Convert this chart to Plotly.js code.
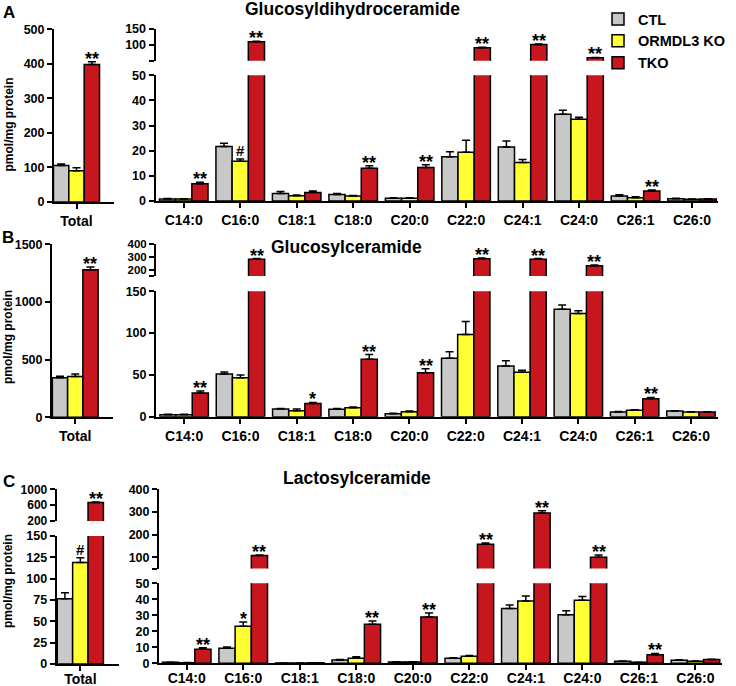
<!DOCTYPE html>
<html><head><meta charset="utf-8">
<script src="https://cdn.plot.ly/plotly-3.0.1.min.js"></script>
<style>html,body{margin:0;padding:0;background:#fff}#chart{width:736px;height:686px}</style>
</head><body><div id="chart"></div><script>
// ---------- DATA ----------
const categories = ['C14:0','C16:0','C18:1','C18:0','C20:0','C22:0','C24:1','C24:0','C26:1','C26:0'];
const totalLabel = ['Total'];
const seriesNames = ['CTL','ORMDL3 KO','TKO'];

// A: Glucosyldihydroceramide
const gdhTotal    = [105, 90, 398];
const gdhTotalErr = [4, 8.7, 7.7];
const gdhTotalSig = ['', '', '**'];
const gdhCTL    = [0.8, 21.7, 3.0, 2.6, 1.1, 17.6, 21.5, 34.5, 2.0, 0.9];
const gdhCTLErr = [0.2, 1.3, 0.8, 0.4, 0.2, 2.0, 2.4, 1.6, 0.5, 0.2];
const gdhKO     = [0.8, 15.8, 2.1, 2.0, 1.1, 19.4, 15.3, 32.5, 1.3, 0.7];
const gdhKOErr  = [0.1, 0.9, 0.3, 0.2, 0.2, 4.8, 1.2, 0.8, 0.4, 0.1];
const gdhTKO    = [6.9, 110, 3.4, 13.0, 13.3, 90.6, 101, 59.4, 4.0, 0.8];
const gdhTKOErr = [0.6, 1.5, 0.6, 1.0, 1.1, 1.5, 1.5, 1.0, 0.4, 0.1];
const gdhKOSig  = ['', '#', '', '', '', '', '', '', '', ''];
const gdhTKOSig = ['**', '**', '', '**', '**', '**', '**', '**', '**', ''];

// B: Glucosylceramide
const gcTotal    = [344, 353, 1280];
const gcTotalErr = [12, 23, 23];
const gcTotalSig = ['', '', '**'];
const gcCTL    = [2.4, 51, 9.2, 8.8, 3.6, 70, 60.5, 128.5, 5.6, 6.8];
const gcCTLErr = [0.4, 2.4, 0.6, 1.0, 0.4, 7.6, 6.4, 5.2, 0.6, 0.4];
const gcKO     = [2.4, 46.6, 7.2, 10.7, 6.0, 98.3, 53.3, 123.4, 7.6, 5.6];
const gcKOErr  = [0.4, 3.2, 2.0, 0.8, 0.8, 15.5, 2.4, 3.2, 0.8, 0.4];
const gcTKO    = [28.3, 285, 15.9, 68.8, 52.5, 289, 285, 235, 21.5, 5.6];
const gcTKOErr = [2.4, 5, 1.2, 5.6, 4.8, 5, 5, 5, 1.6, 0.4];
const gcKOSig  = ['', '', '', '', '', '', '', '', '', ''];
const gcTKOSig = ['**', '**', '*', '**', '**', '**', '**', '**', '**', ''];

// C: Lactosylceramide
const lcTotal    = [76.6, 119, 660];
const lcTotalErr = [7, 5.5, 15];
const lcTotalSig = ['', '#', '**'];
const lcCTL    = [0.6, 9.4, 0.2, 2.1, 0.8, 3.1, 34.2, 30.4, 1.25, 1.9];
const lcCTLErr = [0.1, 0.8, 0.05, 0.3, 0.1, 0.4, 2.3, 2.5, 0.2, 0.3];
const lcKO     = [0.4, 23.1, 0.2, 3.1, 0.8, 4.4, 39, 39.4, 0.6, 1.25];
const lcKOErr  = [0.1, 2.7, 0.05, 1.0, 0.1, 0.4, 3.1, 2.3, 0.1, 0.2];
const lcTKO    = [8.75, 107, 0.3, 24.4, 29, 157.5, 295, 100, 5.4, 2.3];
const lcTKOErr = [1.0, 3, 0.05, 2.0, 2.5, 5, 10, 10, 0.8, 0.3];
const lcKOSig  = ['', '*', '', '', '', '', '', '', '', ''];
const lcTKOSig = ['**', '**', '', '**', '**', '**', '**', '**', '**', ''];

// ---------- STYLE / LAYOUT ----------
const W = 736, H = 686;
const FONT = 'Liberation Sans, Arial, Helvetica, sans-serif';
const seriesColors = ['#c8c8c8', '#ffff33', '#c8161e'];
const BW = 0.86 / 3;
const X = px => px / W;
const Y = py => 1 - py / H;

const traces = [];
const annotations = [];
const layout = {
  width: W, height: H,
  margin: {l: 0, r: 0, t: 0, b: 0},
  paper_bgcolor: '#fff', plot_bgcolor: 'rgba(0,0,0,0)',
  barmode: 'overlay',
  showlegend: true,
  legend: {
    x: X(598), y: Y(3), xanchor: 'left', yanchor: 'top',
    font: {family: FONT, size: 14.5, color: '#000', weight: 'bold'},
    bgcolor: 'rgba(0,0,0,0)', tracegroupgap: 0
  },
  font: {family: FONT, color: '#000'},
  annotations: annotations
};

let xCount = 0, yCount = 0;
const axName = (l, n) => l + (n > 1 ? n : '');
const axKey = (l, n) => l + 'axis' + (n > 1 ? n : '');

function makePlot(cfg) {
  const xn = ++xCount;
  const segIds = cfg.segs.map(() => ++yCount);
  const xs = cfg.labels.map((_, i) => i);
  layout[axKey('x', xn)] = {
    domain: [X(cfg.xPx[0]), X(cfg.xPx[1])], range: cfg.xRange,
    anchor: axName('y', segIds[0]),
    tickmode: 'array', tickvals: xs, ticktext: cfg.labels,
    showline: true, linewidth: 2, linecolor: '#000',
    ticks: 'outside', ticklen: 5, tickwidth: 2, tickcolor: '#000',
    ticklabelstandoff: cfg.labelStandoff || 0,
    tickfont: {family: FONT, size: 14, color: '#000', weight: 'bold'},
    showgrid: false, zeroline: false, fixedrange: true
  };
  cfg.segs.forEach((s, si) => {
    const yn = segIds[si];
    const ax = {
      domain: [Y(s.px[0]), Y(s.px[1])], range: s.range,
      anchor: axName('x', xn),
      showline: true, linewidth: 2, linecolor: '#000',
      ticks: 'outside', ticklen: 5, tickwidth: 2, tickcolor: '#000',
      tickfont: {family: FONT, size: s.fontSize || 12.5, color: '#000', weight: 'bold'},
      showgrid: false, zeroline: false, fixedrange: true
    };
    if (s.tickvals) { ax.tickmode = 'array'; ax.tickvals = s.tickvals; ax.ticktext = s.ticktext; }
    else { ax.tickmode = 'linear'; ax.tick0 = 0; ax.dtick = s.dtick; }
    layout[axKey('y', yn)] = ax;
    cfg.series.forEach((ser, k) => {
      traces.push({
        type: 'bar', x: xs, y: ser.vals,
        xaxis: axName('x', xn), yaxis: axName('y', yn),
        width: BW, offset: -1.5 * BW + k * BW,
        name: seriesNames[k], legendgroup: seriesNames[k],
        showlegend: !!cfg.legend && si === 0,
        marker: {color: seriesColors[k], line: {color: '#000', width: 1.5}},
        error_y: {type: 'data', symmetric: false, array: ser.errs,
                  arrayminus: ser.errs.map(() => 0),
                  color: '#000', thickness: 1.5, width: 4},
        hoverinfo: 'skip', cliponaxis: true
      });
    });
  });
  // significance marks
  cfg.series.forEach((ser, k) => {
    ser.sig.forEach((txt, i) => {
      if (!txt) return;
      const yv = ser.vals[i] + ser.errs[i];
      let si = cfg.segs.findIndex(s => yv >= s.range[0] && yv <= s.range[1]);
      if (si < 0) si = cfg.segs.length - 1;
      const star = txt.indexOf('*') >= 0;
      annotations.push({
        x: i + (k - 1) * BW, y: yv,
        xref: axName('x', xn), yref: axName('y', segIds[si]),
        text: txt, showarrow: false, xanchor: 'center', yanchor: 'bottom',
        yshift: star ? -9 : -2,
        font: {family: FONT, size: star ? 18 : 15, color: '#000', weight: 'bold'}
      });
    });
  });
}

// Panel A
makePlot({
  labels: totalLabel, xPx: [54, 114], xRange: [-0.42, 0.70], legend: true,
  segs: [{px: [201.7, 29.3], range: [0, 500], dtick: 100}],
  series: [0, 1, 2].map(k => ({vals: [gdhTotal[k]], errs: [gdhTotalErr[k]], sig: [gdhTotalSig[k]]}))
});
makePlot({
  labels: categories, xPx: [155.5, 718], xRange: [-0.5, 9.46],
  segs: [
    {px: [201, 75.3], range: [0, 50], dtick: 10},
    {px: [60.7, 29], range: [50, 150], tickvals: [50, 100, 150], ticktext: ['', '100', '150']}
  ],
  series: [
    {vals: gdhCTL, errs: gdhCTLErr, sig: categories.map(() => '')},
    {vals: gdhKO, errs: gdhKOErr, sig: gdhKOSig},
    {vals: gdhTKO, errs: gdhTKOErr, sig: gdhTKOSig}
  ]
});
// Panel B
makePlot({
  labels: totalLabel, xPx: [52, 113], xRange: [-0.437, 0.71],
  segs: [{px: [417.3, 244.3], range: [0, 1500], dtick: 500}],
  series: [0, 1, 2].map(k => ({vals: [gcTotal[k]], errs: [gcTotalErr[k]], sig: [gcTotalSig[k]]}))
});
makePlot({
  labels: categories, xPx: [156, 718], xRange: [-0.5, 9.48],
  segs: [
    {px: [416.7, 291.3], range: [0, 150], dtick: 50},
    {px: [276, 244.3], range: [155, 400], tickvals: [155, 200, 300, 400], ticktext: ['', '200', '300', '400'], fontSize: 11.5}
  ],
  series: [
    {vals: gcCTL, errs: gcCTLErr, sig: categories.map(() => '')},
    {vals: gcKO, errs: gcKOErr, sig: gcKOSig},
    {vals: gcTKO, errs: gcTKOErr, sig: gcTKOSig}
  ]
});
// Panel C
makePlot({
  labels: totalLabel, xPx: [56.7, 119], xRange: [-0.44, 0.72], labelStandoff: -4,
  segs: [
    {px: [664, 536], range: [0, 150], dtick: 25},
    {px: [521, 489.3], range: [190, 1000], tickvals: [200, 600, 1000], ticktext: ['200', '600', '1000'], fontSize: 12}
  ],
  series: [0, 1, 2].map(k => ({vals: [lcTotal[k]], errs: [lcTotalErr[k]], sig: [lcTotalSig[k]]}))
});
makePlot({
  labels: categories, xPx: [159, 722], xRange: [-0.49, 9.47], labelStandoff: -4,
  segs: [
    {px: [663.3, 583.3], range: [0, 50], dtick: 10},
    {px: [568.5, 489.3], range: [50, 400], tickvals: [50, 100, 200, 300, 400], ticktext: ['', '100', '200', '300', '400']}
  ],
  series: [
    {vals: lcCTL, errs: lcCTLErr, sig: categories.map(() => '')},
    {vals: lcKO, errs: lcKOErr, sig: lcKOSig},
    {vals: lcTKO, errs: lcTKOErr, sig: lcTKOSig}
  ]
});

// Titles, panel letters, y labels
const panelTitles = ['Glucosyldihydroceramide', 'Glucosylceramide', 'Lactosylceramide'];
const panelLetters = ['A', 'B', 'C'];
const yLabel = 'pmol/mg protein';
const titlePos = [[352, 9], [346, 247], [357, 478]];
const letterPos = [[9, 12], [8, 238], [9, 482]];
const yLabelPos = [[8, 124.5], [8, 337], [8, 581]];
panelTitles.forEach((t, i) => {
  annotations.push({xref: 'paper', yref: 'paper', x: X(titlePos[i][0]), y: Y(titlePos[i][1]),
    xanchor: 'center', yanchor: 'middle', showarrow: false, text: t,
    font: {family: FONT, size: 17.5, color: '#000', weight: 'bold'}});
  annotations.push({xref: 'paper', yref: 'paper', x: X(letterPos[i][0]), y: Y(letterPos[i][1]),
    xanchor: 'center', yanchor: 'middle', showarrow: false, text: panelLetters[i],
    font: {family: FONT, size: 17, color: '#000', weight: 'bold'}});
  annotations.push({xref: 'paper', yref: 'paper', x: X(yLabelPos[i][0]), y: Y(yLabelPos[i][1]),
    xanchor: 'center', yanchor: 'middle', showarrow: false, text: yLabel, textangle: -90,
    font: {family: FONT, size: 12, color: '#000', weight: 'bold'}});
});

Plotly.newPlot('chart', traces, layout, {staticPlot: true, displayModeBar: false});
</script></body></html>
